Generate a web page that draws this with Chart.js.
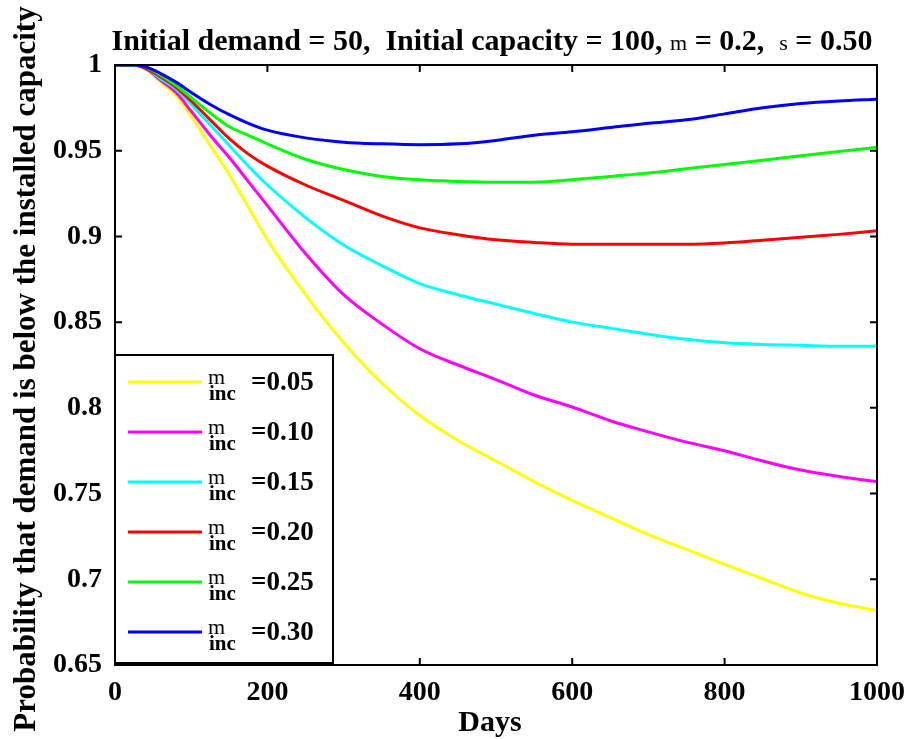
<!DOCTYPE html>
<html>
<head>
<meta charset="utf-8">
<script src="https://cdn.jsdelivr.net/npm/chart.js@4"></script>
<style>
  body { margin: 0; background: #fff; }
  #wrap { width: 906px; height: 739px; }
</style>
</head>
<body>
<div id="wrap"><canvas id="probChart" width="906" height="739"></canvas></div>
<script>
    // values
    const days = [0, 25, 40, 60, 80, 100, 125, 150, 175, 200, 250, 300, 350, 400, 450, 500, 550, 600, 650, 700, 750, 800, 850, 900, 950, 1000];

    const inc05 = [1, 1, 0.998, 0.990, 0.982, 0.970, 0.953, 0.936, 0.917, 0.898, 0.866, 0.838, 0.8145, 0.7955, 0.781, 0.769, 0.757, 0.746, 0.736, 0.7261, 0.7174, 0.7087, 0.7003, 0.692, 0.686, 0.6817];
    const inc10 = [1, 1, 0.998, 0.991, 0.984, 0.973, 0.959, 0.946, 0.932, 0.918, 0.890, 0.866, 0.849, 0.8345, 0.825, 0.8165, 0.8075, 0.8005, 0.7925, 0.786, 0.780, 0.775, 0.769, 0.7637, 0.760, 0.757];
    const inc15 = [1, 1, 0.998, 0.992, 0.986, 0.977, 0.965, 0.953, 0.941, 0.930, 0.911, 0.895, 0.883, 0.8725, 0.866, 0.8605, 0.855, 0.850, 0.8465, 0.843, 0.840, 0.838, 0.837, 0.8365, 0.836, 0.836];
    const inc20 = [1, 1, 0.998, 0.993, 0.987, 0.979, 0.968, 0.957, 0.948, 0.941, 0.930, 0.921, 0.912, 0.905, 0.901, 0.898, 0.8965, 0.8955, 0.8954, 0.8954, 0.8954, 0.8962, 0.8978, 0.8995, 0.9012, 0.9033];
    const inc25 = [1, 1, 0.999, 0.994, 0.988, 0.981, 0.972, 0.964, 0.959, 0.954, 0.945, 0.939, 0.935, 0.933, 0.932, 0.9316, 0.9316, 0.933, 0.935, 0.937, 0.9395, 0.942, 0.9445, 0.947, 0.9495, 0.952];
    const inc30 = [1, 1, 0.999, 0.995, 0.990, 0.984, 0.977, 0.971, 0.966, 0.962, 0.9575, 0.955, 0.954, 0.9535, 0.954, 0.956, 0.959, 0.961, 0.9635, 0.966, 0.968, 0.9715, 0.975, 0.9775, 0.979, 0.980];

    const increments = ["0.05", "0.10", "0.15", "0.20", "0.25", "0.30"];
    const series = [inc05, inc10, inc15, inc20, inc25, inc30];
    const colors = ["#ffff00", "#ff00ff", "#00ffff", "#ff0000", "#00ff00", "#0000ff"];

    const serif = "'Liberation Serif', 'Times New Roman', serif";

    const datasets = series.map((vals, i) => ({
        label: "m_inc=" + increments[i],
        data: days.map((d, j) => ({ x: d, y: vals[j] })),
        borderColor: colors[i],
        borderWidth: 3,
        pointRadius: 0,
        fill: false,
        cubicInterpolationMode: "monotone",
        order: series.length - i
    }));

    // box, inward ticks, legend and titles
    const decorations = {
        id: "decorations",
        afterDatasetsDraw(chart) {
            const ctx = chart.ctx;
            const area = chart.chartArea;
            const xs = chart.scales.x, ys = chart.scales.y;
            ctx.save();
            ctx.strokeStyle = "#000";
            ctx.lineWidth = 2;
            ctx.strokeRect(area.left, area.top, area.right - area.left, area.bottom - area.top);

            const tl = 7;
            ctx.beginPath();
            xs.ticks.forEach(t => {
                const px = xs.getPixelForValue(t.value);
                ctx.moveTo(px, area.bottom); ctx.lineTo(px, area.bottom - tl);
                ctx.moveTo(px, area.top); ctx.lineTo(px, area.top + tl);
            });
            ys.ticks.forEach(t => {
                const py = ys.getPixelForValue(t.value);
                ctx.moveTo(area.left, py); ctx.lineTo(area.left + tl, py);
                ctx.moveTo(area.right, py); ctx.lineTo(area.right - tl, py);
            });
            ctx.stroke();

            // legend
            const lw = 218, lh = 308;
            const lx = area.left, ly = area.bottom - lh - 2;
            ctx.fillStyle = "#fff";
            ctx.fillRect(lx, ly, lw, lh);
            ctx.lineWidth = 2;
            ctx.strokeRect(lx, ly, lw, lh);
            increments.forEach((inc, i) => {
                const y = ly + 27 + i * 50;
                ctx.strokeStyle = colors[i];
                ctx.lineWidth = 3;
                ctx.beginPath();
                ctx.moveTo(lx + 13, y); ctx.lineTo(lx + 87, y);
                ctx.stroke();
                ctx.fillStyle = "#000";
                ctx.textBaseline = "alphabetic";
                ctx.textAlign = "left";
                ctx.font = "22px " + serif;
                ctx.fillText("m", lx + 93, y + 2);
                ctx.font = "bold 21px " + serif;
                ctx.fillText("inc", lx + 94, y + 18);
                ctx.font = "bold 27px " + serif;
                ctx.fillText("=" + inc, lx + 136, y + 8);
            });

            // title
            ctx.fillStyle = "#000";
            const bold = "bold 30px " + serif, reg = "22px " + serif;
            const parts = [
                ["Initial demand = 50,  Initial capacity = 100, ", bold],
                ["m", reg],
                [" = 0.2,  ", bold],
                ["s", reg],
                [" = 0.50", bold]
            ];
            let total = 0;
            parts.forEach(p => { ctx.font = p[1]; total += ctx.measureText(p[0]).width; });
            let x = 492 - total / 2;
            ctx.textAlign = "left";
            ctx.textBaseline = "alphabetic";
            parts.forEach(p => {
                ctx.font = p[1];
                ctx.fillText(p[0], x, 50);
                x += ctx.measureText(p[0]).width;
            });

            // axis titles
            ctx.font = "bold 30px " + serif;
            ctx.textAlign = "center";
            ctx.fillText("Days", 490, 731);
            ctx.font = "bold 31px " + serif;
            ctx.translate(35, 369);
            ctx.rotate(-Math.PI / 2);
            ctx.fillText("Probability that demand is below the installed capacity", 0, 0);
            ctx.restore();
        }
    };

    new Chart(document.getElementById("probChart"), {
        type: "line",
        data: { datasets },
        options: {
            responsive: false,
            animation: false,
            layout: { padding: { left: 0, right: 29, top: 65, bottom: 0 } },
            plugins: { legend: { display: false }, title: { display: false }, tooltip: { enabled: false } },
            scales: {
                x: {
                    type: "linear",
                    min: 0,
                    max: 1000,
                    afterFit: s => { s.height = 74; s.paddingLeft = 0; s.paddingRight = 0; },
                    grid: { display: false, drawTicks: false, tickLength: 0 },
                    border: { display: false },
                    ticks: {
                        stepSize: 200,
                        padding: 11,
                        color: "#000",
                        maxRotation: 0,
                        font: { family: serif, size: 28, weight: "bold" },
                        callback: v => String(v)
                    }
                },
                y: {
                    min: 0.65,
                    max: 1,
                    afterFit: s => { s.width = 115; s.paddingTop = 0; s.paddingBottom = 0; },
                    grid: { display: false, drawTicks: false, tickLength: 0 },
                    border: { display: false },
                    ticks: {
                        stepSize: 0.05,
                        padding: 13,
                        color: "#000",
                        font: { family: serif, size: 28, weight: "bold" },
                        callback: v => String(+v.toFixed(2))
                    }
                }
            }
        },
        plugins: [decorations]
    });
</script>
</body>
</html>
